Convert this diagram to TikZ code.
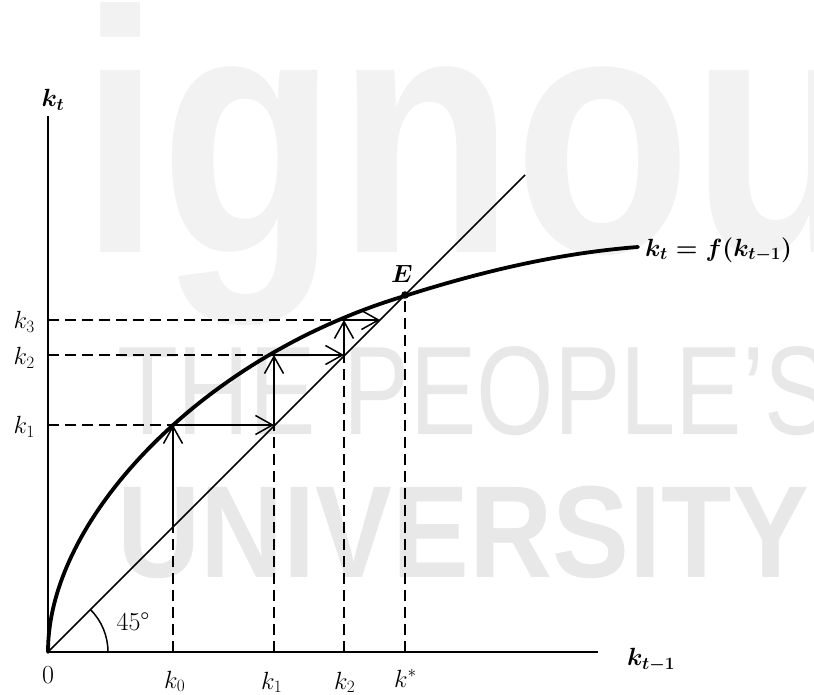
\documentclass[tikz,border=0pt]{standalone}
\usepackage{amsmath}
\usepackage{fontspec}
\newfontfamily\wmfont{Liberation Sans}
\usetikzlibrary{arrows.meta}
\begin{document}
\begin{tikzpicture}[x=1pt,y=1pt,
  lbl/.style={font=\fontsize{26}{30}\selectfont, inner sep=0pt},
  thinline/.style={line width=1.5pt},
  dsh/.style={line width=1.5pt, dash pattern=on 11pt off 6pt},
  arr/.style={line width=1.5pt, -{Straight Barb[length=17pt,width=19pt,line width=1.5pt]}},
  axisline/.style={line width=1.8pt},
  curveline/.style={line width=3.8pt, line cap=round},
  wm/.style={inner sep=0pt, anchor=base west}
]
\useasboundingbox (-48,-42) rectangle (766,652);
\clip (-48,-42) rectangle (766,652);
% watermark
\node[wm, text=black!5, xscale=0.84, font=\wmfont\bfseries\fontsize{345}{345}\selectfont] (wm1) at (32,399) {ignou};
\node[wm, text=black!9, xscale=0.79, font=\wmfont\fontsize{126}{126}\selectfont] (wm2) at (69,217) {THE PEOPLE’S};
\node[wm, text=black!9, xscale=0.88, font=\wmfont\bfseries\fontsize{131}{131}\selectfont] (wm3) at (69,75) {UNIVERSITY};
% key points
\coordinate (O) at (0,0);
\coordinate (X) at (550,0);
\coordinate (Y) at (0,536);
\coordinate (D) at (477,477);
\coordinate (E) at (357,357);
\coordinate (P0) at (125,125);
\coordinate (C0) at (125,227);
\coordinate (P1) at (226,227);
\coordinate (C1) at (226,297);
\coordinate (P2) at (296,297);
\coordinate (C2) at (296,332);
\coordinate (P3) at (332,332);
\coordinate (Yk1) at (0,227);
\coordinate (Yk2) at (0,297);
\coordinate (Yk3) at (0,332);
\coordinate (Xk0) at (125,0);
\coordinate (Xk1) at (226,0);
\coordinate (Xk2) at (296,0);
\coordinate (Xks) at (357,0);
\coordinate (A0) at (60,0);
\coordinate (Cend) at (590,405);
% axes
\draw[axisline] (Y) -- (O) -- (X);
% 45 degree line
\draw[thinline] (O) -- (D);
\draw[thinline] (A0) arc[start angle=0, end angle=45, radius=60];
% dashed guides
\draw[dsh] (Yk1) -- (C0);
\draw[dsh] (Yk2) -- (C1);
\draw[dsh] (Yk3) -- (C2);
\draw[dsh] (Xk0) -- (P0);
\draw[dsh] (Xk1) -- (P1);
\draw[dsh] (Xk2) -- (P2);
\draw[dsh] (Xks) -- (E);
% curve k_t = f(k_{t-1})
\draw[curveline] plot[domain=0:18.894, samples=70]
  ({\x*\x}, {18.9*\x + 0.1933*\x*\x - 0.0005424*\x*\x*\x*\x})
  .. controls (435,381) and (512,399) .. (Cend);
% staircase arrows
\draw[arr] (P0) -- (C0);
\draw[arr] (C0) -- (P1);
\draw[arr] (P1) -- (C1);
\draw[arr] (C1) -- (P2);
\draw[arr] (P2) -- (C2);
\draw[arr] (C2) -- (P3);
\fill (E) circle (3.8pt);
% labels
\node[lbl] (lkt) at (5,552) {$\boldsymbol{k_t}$};
\node[lbl, anchor=west] (lkt1) at (579,-8) {$\boldsymbol{k_{t-1}}$};
\node[lbl, anchor=west] (lf) at (597,402) {$\boldsymbol{k_t = f(k_{t-1})}$};
\node[lbl] (lE) at (354,378) {$\boldsymbol{E}$};
\node[lbl, anchor=base east] (lk3) at (-13,323) {$k_3$};
\node[lbl, anchor=base east] (lk2) at (-13,287) {$k_2$};
\node[lbl, anchor=base east] (lk1) at (-13,218) {$k_1$};
\node[lbl] (l0) at (0,-23) {0};
\node[lbl, anchor=base west] (lk0) at (116,-36) {$k_0$};
\node[lbl, anchor=base west] (lk1b) at (213,-37) {$k_1$};
\node[lbl, anchor=base west] (lk2b) at (286,-37) {$k_2$};
\node[lbl, anchor=base west] (lks) at (346,-35) {$k^*$};
\node[lbl] (l45) at (85,30) {45°};
\end{tikzpicture}
\end{document}
